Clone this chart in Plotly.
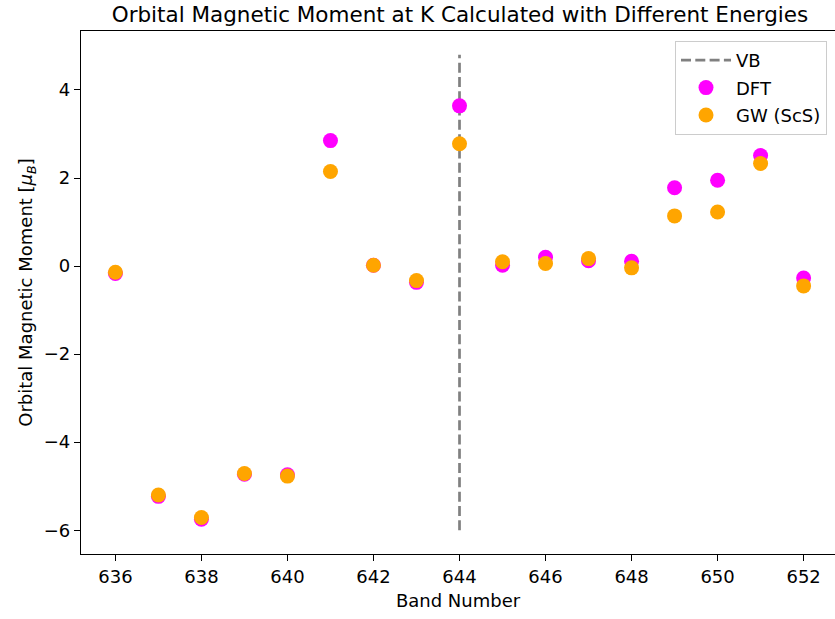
import plotly.graph_objects as go

bands = [636, 637, 638, 639, 640, 641, 642, 643, 644, 645, 646, 647, 648, 649, 650, 651, 652]
dft = [-0.17, -5.23, -5.75, -4.73, -4.74, 2.85, 0.02, -0.37, 3.64, 0.02, 0.20, 0.12, 0.11, 1.78, 1.95, 2.51, -0.27]
gw = [-0.14, -5.20, -5.71, -4.71, -4.77, 2.15, 0.02, -0.33, 2.78, 0.10, 0.06, 0.17, -0.04, 1.14, 1.23, 2.33, -0.45]
vb_x = [644, 644]
vb_y = [-6, 4.8]
x_ticks = [636, 638, 640, 642, 644, 646, 648, 650, 652]
y_ticks = [-6, -4, -2, 0, 2, 4]

FONT = "DejaVu Sans"
L, T, B = 81, 31, 65
PW = 835 - L
PH = 619 - T - B

fig = go.Figure()
fig.add_trace(go.Scatter(x=vb_x, y=vb_y, mode="lines", name="VB",
                         line=dict(color="gray", width=2.7, dash="10px,4.3px"),
                         legendgroup="a"))
fig.add_trace(go.Scatter(x=bands, y=dft, mode="markers", name="DFT",
                         marker=dict(color="magenta", size=15, line=dict(width=0)),
                         legendgroup="b"))
fig.add_trace(go.Scatter(x=bands, y=gw, mode="markers", name="GW (ScS)",
                         marker=dict(color="orange", size=15, line=dict(width=0)),
                         legendgroup="c"))

fig.update_layout(
    width=835, height=619,
    margin=dict(l=L, r=0, t=T, b=B, autoexpand=False),
    paper_bgcolor="white", plot_bgcolor="white",
    font=dict(family=FONT, size=18, color="black"),
    title=dict(text="Orbital Magnetic Moment at K Calculated with Different Energies",
               x=460 / 835, xanchor="center", xref="container",
               y=1 - 14 / 619, yanchor="middle", yref="container",
               font=dict(family=FONT, size=21.5, color="black")),
    showlegend=True,
    legend=dict(x=(827 - L) / PW, xanchor="right", xref="paper",
                y=1 - (41 - T) / PH, yanchor="top", yref="paper",
                bordercolor="#cccccc", borderwidth=1, bgcolor="rgba(255,255,255,0.8)",
                font=dict(family=FONT, size=18, color="black"),
                traceorder="grouped", tracegroupgap=1, itemwidth=50),
)
fig.update_xaxes(range=[635.2, 652.73], tickvals=x_ticks, ticks="outside", ticklen=6,
                 tickwidth=1.4, tickcolor="black", showline=True, linecolor="black",
                 linewidth=1.4, mirror=True, showgrid=False, zeroline=False,
                 tickfont=dict(family=FONT, size=18),
                 title=dict(text="Band Number", font=dict(family=FONT, size=18), standoff=8))
fig.update_yaxes(range=[-6.54, 5.34], tickvals=y_ticks, ticks="outside", ticklen=6,
                 tickwidth=1.4, tickcolor="black", showline=True, linecolor="black",
                 linewidth=1.4, mirror=False, showgrid=False, zeroline=False,
                 tickfont=dict(family=FONT, size=18),
                 title=dict(text="Orbital Magnetic Moment [<i>μ</i><sub><i>B</i></sub>]",
                            font=dict(family=FONT, size=18), standoff=6))

fig.write_html("out.html")
